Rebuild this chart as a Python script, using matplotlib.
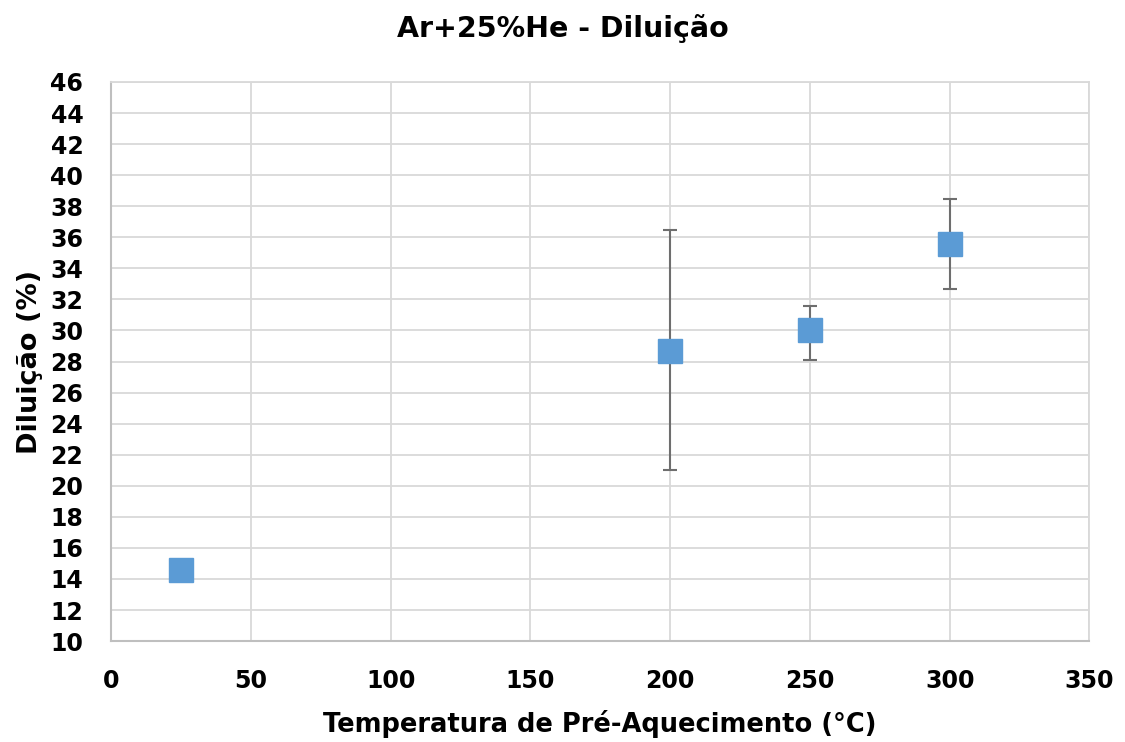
import matplotlib
matplotlib.use('Agg')
import matplotlib.pyplot as plt

# Data
temperatures = [25, 200, 250, 300]
diluicao = [14.6, 28.7, 30.0, 35.6]
err_low = [0.0, 7.7, 1.9, 2.95]
err_high = [0.0, 7.75, 1.55, 2.85]

x_ticks = [0, 50, 100, 150, 200, 250, 300, 350]
y_ticks = list(range(10, 47, 2))

plt.rcParams['font.family'] = ['DejaVu Sans']

fig = plt.figure(figsize=(11.25, 7.42), dpi=100)
ax = fig.add_axes([0.0987, 0.136, 0.8697, 0.7535])

ax.errorbar(temperatures, diluicao, yerr=[err_low, err_high],
            fmt='s', color='#5B9BD5', markersize=17, markeredgecolor='#5B9BD5',
            ecolor='#6E6E6E', elinewidth=1.5, capsize=5, capthick=1.5,
            zorder=3)

ax.set_xlim(0, 350)
ax.set_ylim(10, 46)
ax.set_xticks(x_ticks)
ax.set_yticks(y_ticks)
ax.tick_params(axis='y', length=0, labelsize=17, pad=20)
ax.tick_params(axis='x', length=0, labelsize=17, pad=20)
for lbl in ax.get_xticklabels() + ax.get_yticklabels():
    lbl.set_fontweight('bold')

ax.grid(True, color='#D9D9D9', linewidth=1.3)
ax.set_axisbelow(True)
for side in ['top', 'right']:
    ax.spines[side].set_color('#D9D9D9')
    ax.spines[side].set_linewidth(1.3)
for side in ['left', 'bottom']:
    ax.spines[side].set_color('#BFBFBF')
    ax.spines[side].set_linewidth(1.5)

# title is centred on the whole figure, not on the plot area
fig.text(0.5, 0.950, 'Ar+25%He - Diluição', fontsize=20.5, fontweight='bold',
         ha='center', va='baseline')
ax.set_xlabel('Temperatura de Pré-Aquecimento (°C)', fontsize=18.5,
              fontweight='bold', labelpad=12)
ax.set_ylabel('Diluição (%)', fontsize=19.5, fontweight='bold', labelpad=5)

plt.savefig('out.png', dpi=100)
